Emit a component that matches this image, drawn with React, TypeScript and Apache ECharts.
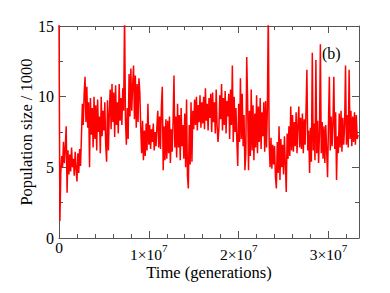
import React, { useEffect, useRef } from "react";
import * as echarts from "echarts";

// Time step between samples (generations)
const timeStep = 1e5;

// Population size / 1000, sampled every 1e5 generations
const popSeg0 = [
  15.6, 1.2, 4.6, 5.8, 5.0, 6.8, 5.3, 6.4, 7.9, 3.2,
  6.2, 4.5, 5.9, 4.7, 6.4, 5.0, 5.6, 4.4, 6.1, 4.9,
  4.0, 6.0, 4.6, 6.3, 5.1, 7.2, 9.5, 8.0, 10.2, 11.4,
  8.2, 10.7, 7.8, 9.6, 5.0, 9.9, 7.3, 9.2, 6.4, 10.0,
  7.0, 9.4, 6.2, 9.8, 7.5, 8.6, 6.0, 10.0, 7.2, 9.0,
  7.6, 9.6, 6.6, 5.4, 9.75, 6.2, 8.8, 10.5, 7.7, 10.9,
  8.2, 10.3, 7.15, 10.8, 8.0, 9.6, 7.4, 10.9, 8.3, 9.9,
  8.0, 10.6, 9.0, 16.0, 8.4, 6.6, 9.2, 7.0, 11.6, 8.6,
  12.0, 9.0, 10.8, 12.2, 8.4, 11.5, 7.8, 10.9, 8.2, 11.3,
  10.3, 7.8, 6.0, 8.3, 5.5, 7.6, 5.8, 8.1, 6.2, 9.5,
];
const popSeg1 = [
  6.6, 8.0, 6.3, 7.7, 6.8, 8.1, 6.2, 7.5, 6.5, 7.9,
  9.0, 6.4, 8.6, 6.3, 9.3, 10.7, 4.8, 7.9, 5.5, 8.4,
  5.6, 8.3, 6.0, 8.6, 5.3, 7.7, 6.1, 8.2, 11.5, 6.4,
  8.6, 5.7, 9.5, 6.4, 8.7, 5.5, 9.2, 6.5, 8.0, 5.6,
  8.8, 5.0, 9.8, 4.4, 3.5, 8.0, 5.2, 9.6, 5.4, 9.0,
  7.7, 9.8, 8.0, 10.0, 7.6, 9.4, 8.2, 10.1, 7.8, 9.6,
  8.1, 10.0, 7.7, 10.6, 8.3, 9.5, 7.6, 9.9, 8.5, 10.2,
  7.5, 10.3, 8.2, 9.6, 7.4, 10.5, 8.0, 6.8, 7.7, 10.1,
  8.4, 10.9, 7.6, 9.9, 8.0, 10.4, 7.4, 9.7, 8.6, 10.2,
  7.0, 10.5, 8.0, 12.2, 6.8, 10.0, 7.5, 9.2, 6.9, 5.1,
];
const popSeg2 = [
  9.5, 6.8, 11.3, 7.0, 10.2, 6.5, 8.7, 4.8, 6.0, 12.8,
  9.8, 4.8, 9.0, 5.8, 10.5, 6.2, 9.4, 5.5, 8.8, 6.4,
  10.1, 6.0, 9.3, 6.8, 9.9, 6.3, 8.9, 7.2, 9.6, 6.1,
  9.7, 6.4, 9.2, 16.0, 6.8, 5.0, 7.1, 4.9, 6.6, 5.2,
  6.5, 4.3, 3.5, 6.8, 4.6, 7.9, 4.1, 7.0, 5.0, 6.6,
  4.5, 7.2, 5.2, 3.25, 7.4, 5.6, 7.9, 5.8, 9.3, 6.2,
  8.7, 6.1, 8.2, 6.5, 8.9, 6.0, 8.0, 9.3, 6.4, 8.5,
  6.3, 8.8, 6.0, 8.4, 6.6, 9.0, 11.9, 6.2, 7.6, 4.6,
  7.8, 5.4, 13.1, 6.2, 8.1, 5.5, 12.6, 6.0, 8.3, 5.3,
  7.4, 13.7, 6.0, 8.2, 5.6, 7.9, 5.3, 8.0, 6.2, 4.3,
];
const popSeg3 = [
  8.0, 11.4, 6.2, 8.6, 6.5, 8.2, 11.4, 6.3, 8.9, 4.1,
  7.2, 6.0, 8.8, 6.4, 9.0, 6.1, 8.5, 6.6, 8.0, 12.2,
  6.6, 8.7, 6.4, 11.9, 7.0, 9.0, 6.5, 8.6, 6.8, 8.9,
  6.6, 8.7, 7.0, 7.3,
];

const xMax = 3.34e7;
const xMajorTicks = [0, 1e7, 2e7, 3e7];
const yTickLabels = ["0", "5", "10", "15"];
const panelLabel = "(b)";
const xTitle = "Time (generations)";
const yTitle = "Population size / 1000";

const FONT = "'Liberation Serif', 'Times New Roman', serif";
const AXIS_COLOR = "#555555";

export default function App() {
  const ref = useRef<HTMLDivElement>(null);

  useEffect(() => {
    if (!ref.current) return;
    const chart = echarts.init(ref.current, undefined, { renderer: "svg" });
    const values = [...popSeg0, ...popSeg1, ...popSeg2, ...popSeg3];
    const data = values.map((v, i) => [i * timeStep, v]);

    const hiddenAxisBase = {
      min: 0,
      axisLabel: { show: false },
      splitLine: { show: false },
    };

    const option: any = {
      animation: false,
      backgroundColor: "#ffffff",
      title: {
        text: panelLabel,
        left: 317,
        top: 40,
        textStyle: { fontFamily: FONT, fontSize: 16, fontWeight: "normal", color: "#000" },
      },
      grid: { left: 59, right: 31, top: 26, bottom: 55, containLabel: false },
      xAxis: [
        {
          type: "value",
          position: "bottom",
          min: 0,
          max: xMax,
          interval: 1e7,
          axisLine: { show: true, onZero: false, lineStyle: { color: AXIS_COLOR, width: 1 } },
          axisTick: { show: true, inside: true, length: 7, lineStyle: { color: AXIS_COLOR } },
          splitLine: { show: false },
          axisLabel: {
            showMaxLabel: false,
            margin: 1,
            formatter: (v: number) => {
              if (!xMajorTicks.includes(v)) return "";
              if (v === 0) return "{z|0}";
              return `{a|${v / 1e7}×10}{s|7}`;
            },
            rich: {
              z: { fontFamily: FONT, fontSize: 15.5, color: "#000", lineHeight: 23, verticalAlign: "top" },
              a: { fontFamily: FONT, fontSize: 15.5, color: "#000", lineHeight: 23, verticalAlign: "bottom" },
              s: { fontFamily: FONT, fontSize: 11, color: "#000", lineHeight: 23, verticalAlign: "top", padding: [3, 0, 0, 0] },
            },
          },
          name: xTitle,
          nameLocation: "middle",
          nameGap: 26,
          nameMoveOverlap: false,
          nameTextStyle: { fontFamily: FONT, fontSize: 16.5, color: "#000" },
        },
        {
          ...hiddenAxisBase,
          type: "value",
          position: "bottom",
          max: xMax,
          interval: 2e6,
          axisLine: { show: false, onZero: false },
          axisTick: { show: true, inside: true, length: 4, lineStyle: { color: AXIS_COLOR } },
        },
        {
          ...hiddenAxisBase,
          type: "value",
          position: "top",
          max: xMax,
          interval: 1e7,
          axisLine: { show: true, onZero: false, lineStyle: { color: AXIS_COLOR, width: 1 } },
          axisTick: { show: true, inside: true, length: 7, lineStyle: { color: AXIS_COLOR } },
        },
        {
          ...hiddenAxisBase,
          type: "value",
          position: "top",
          max: xMax,
          interval: 2e6,
          axisLine: { show: false, onZero: false },
          axisTick: { show: true, inside: true, length: 4, lineStyle: { color: AXIS_COLOR } },
        },
      ],
      yAxis: [
        {
          type: "value",
          position: "left",
          min: 0,
          max: 15,
          interval: 5,
          axisLine: { show: true, onZero: false, lineStyle: { color: AXIS_COLOR, width: 1 } },
          axisTick: { show: true, inside: true, length: 7, lineStyle: { color: AXIS_COLOR } },
          minorTick: { show: true, splitNumber: 2, length: 4, lineStyle: { color: AXIS_COLOR } },
          splitLine: { show: false },
          axisLabel: {
            margin: 5,
            fontFamily: FONT,
            fontSize: 16,
            color: "#000",
            formatter: (v: number) => yTickLabels[v / 5] ?? "",
          },
          name: yTitle,
          nameLocation: "middle",
          nameGap: 24,
          nameMoveOverlap: false,
          nameTextStyle: { fontFamily: FONT, fontSize: 16.5, color: "#000" },
        },
        {
          ...hiddenAxisBase,
          type: "value",
          position: "right",
          max: 15,
          interval: 5,
          axisLine: { show: true, onZero: false, lineStyle: { color: AXIS_COLOR, width: 1 } },
          axisTick: { show: true, inside: true, length: 7, lineStyle: { color: AXIS_COLOR } },
          minorTick: { show: true, splitNumber: 2, length: 4, lineStyle: { color: AXIS_COLOR } },
        },
      ],
      series: [
        {
          type: "line",
          data,
          xAxisIndex: 0,
          yAxisIndex: 0,
          showSymbol: false,
          symbol: "none",
          clip: true,
          lineStyle: { color: "#ff0000", width: 1.5 },
        },
      ],
    };
    chart.setOption(option);
    return () => chart.dispose();
  }, []);

  return (
    <div
      ref={ref}
      style={{ position: "fixed", left: 0, top: 0, width: 390, height: 293, background: "#fff" }}
    />
  );
}
